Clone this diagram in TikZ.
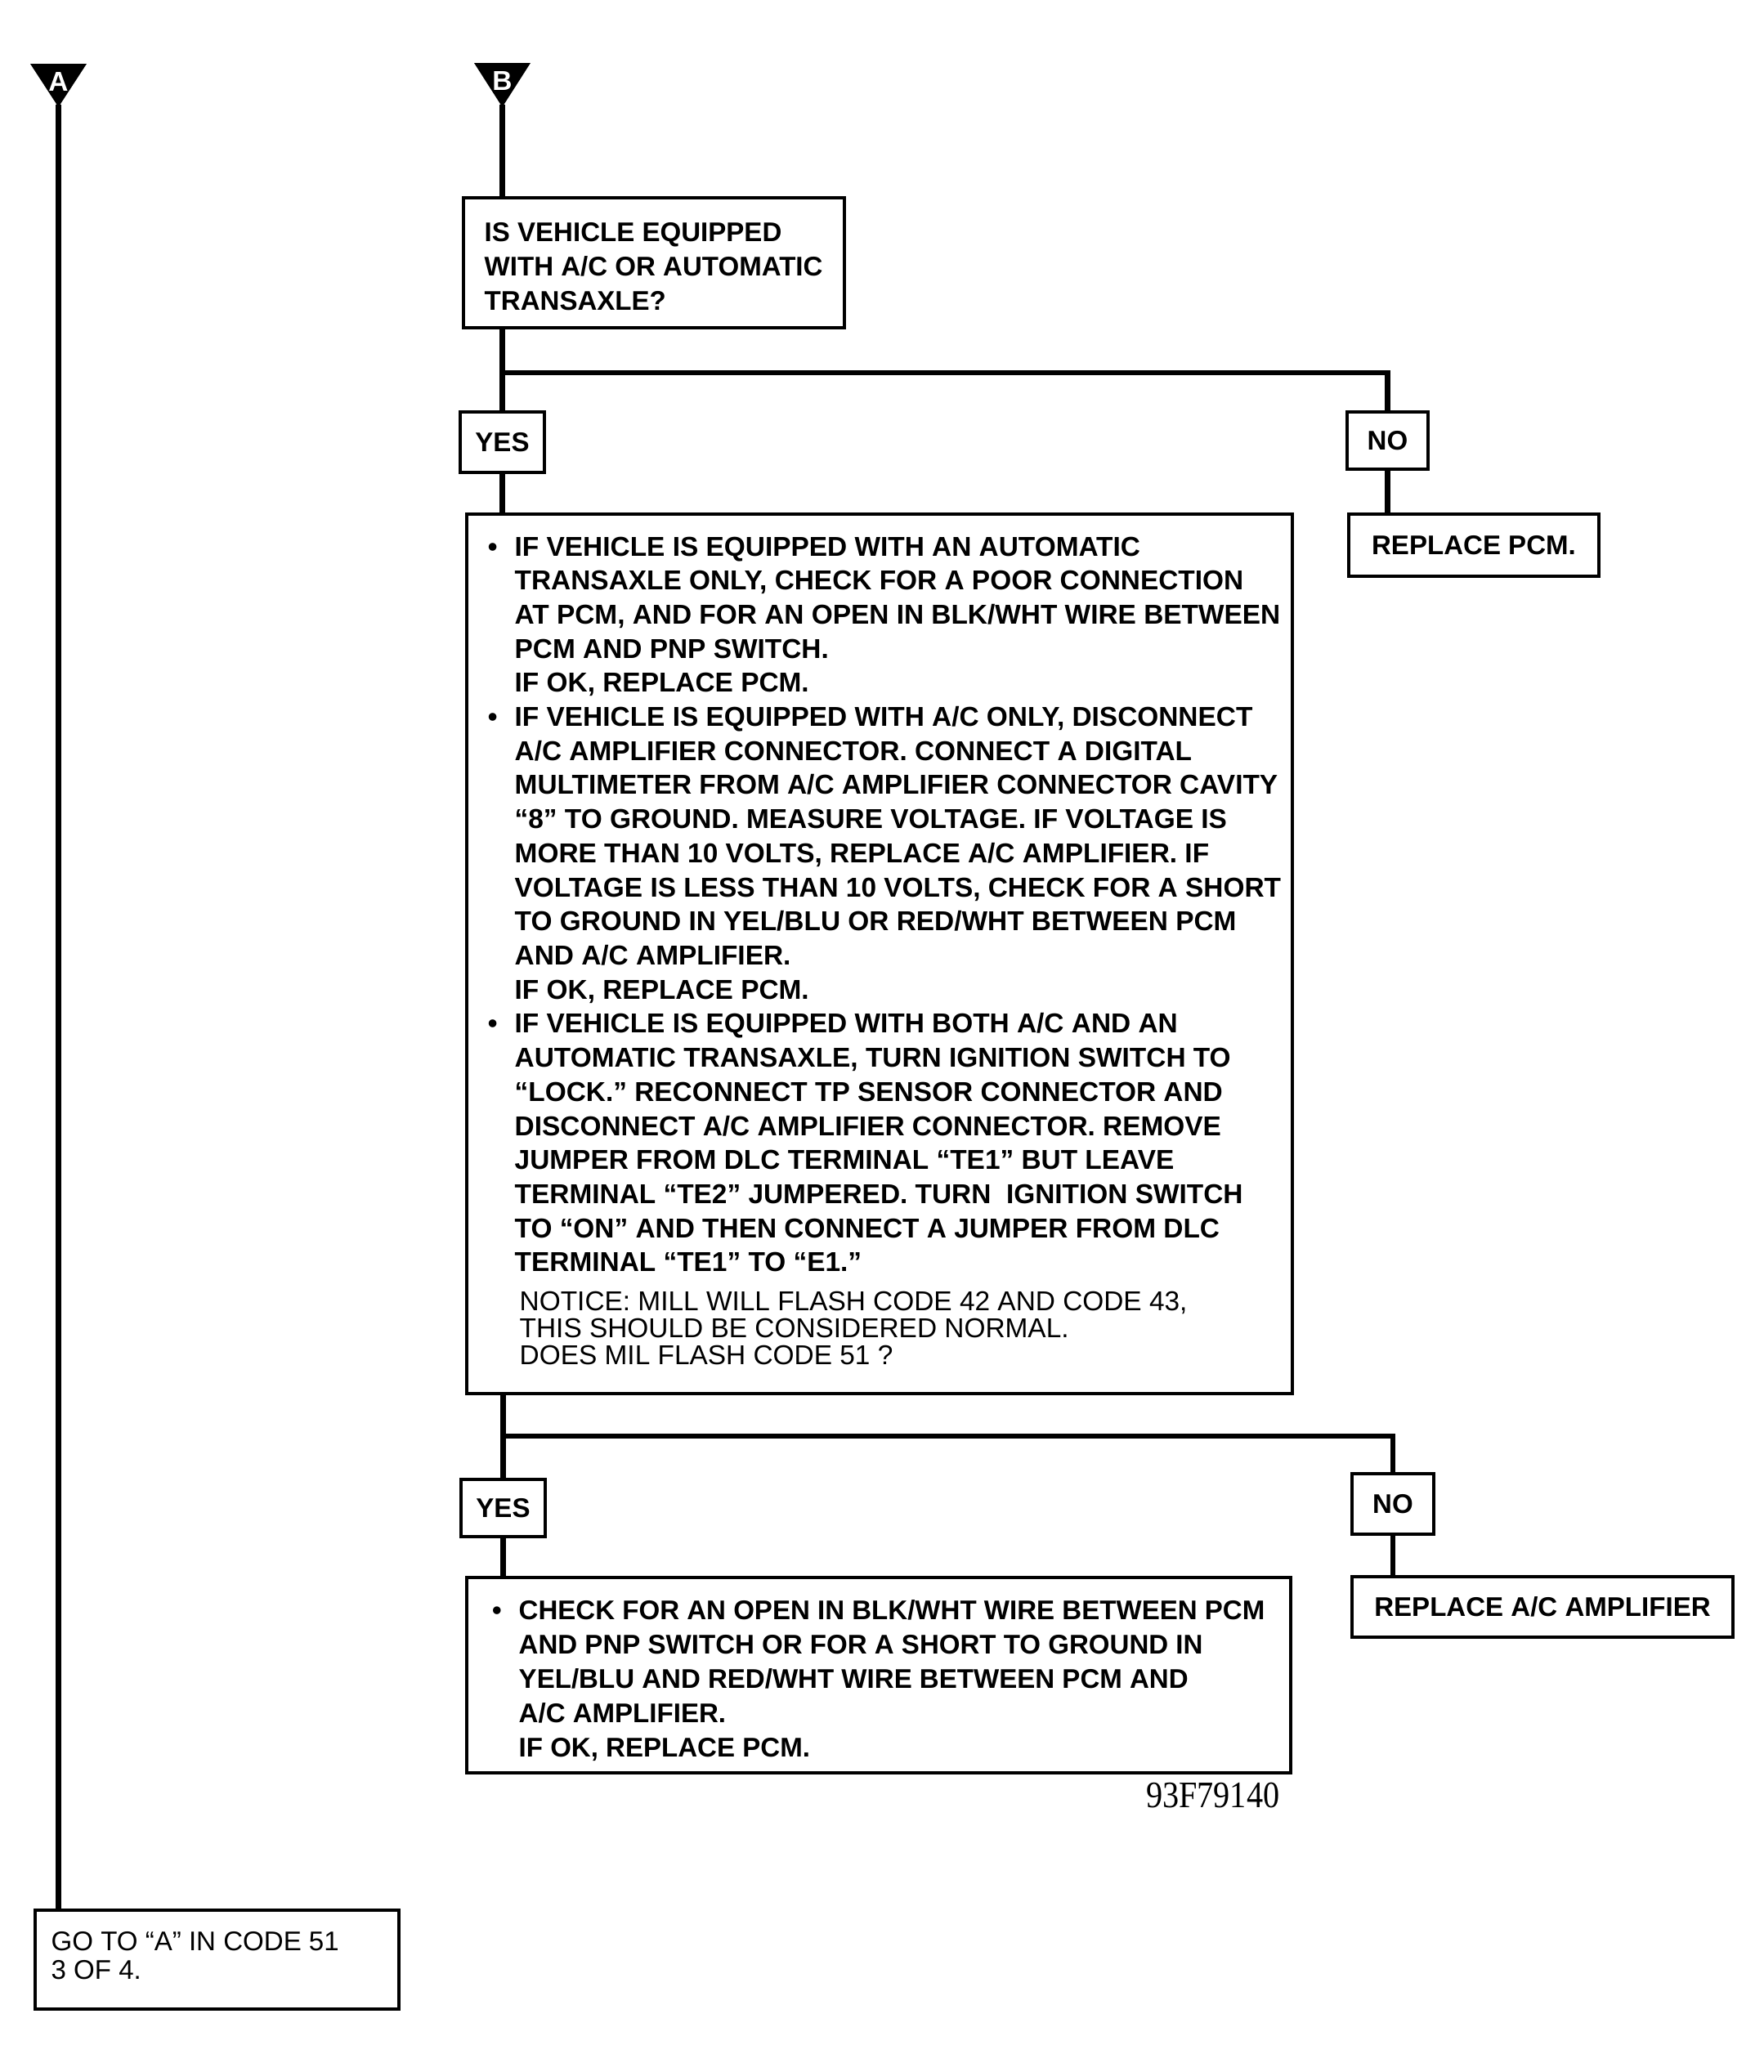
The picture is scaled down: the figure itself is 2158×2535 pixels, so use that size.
\documentclass[tikz,border=0pt]{standalone}
\usepackage{fontspec}
\setmainfont{Liberation Sans}
\newfontfamily\serifnum[FakeStretch=0.88]{Liberation Serif}
\usetikzlibrary{fit}
\newcommand\blk[2]{{#1\begin{tabular}[t]{@{}l@{}}#2\end{tabular}}}
\newcommand\bul{\llap{\textbullet\hspace{6pt}}}
\newcommand\boldA{\fontsize{9.4}{11.95}\selectfont\bfseries}
\newcommand\boldB{\fontsize{9.5}{11.86}\selectfont\bfseries}
\newcommand\noticef{\fontsize{9.5}{9.25}\selectfont}
\newcommand\gof{\fontsize{9.4}{10}\selectfont}
\begin{document}
\begin{tikzpicture}[x=0.01cm,y=-0.01cm,
  box/.style={draw, line width=1.1pt, inner sep=0pt, rectangle},
  conn/.style={line width=1.85pt},
  lbl/.style={box, font=\fontsize{9.4}{11}\selectfont\bfseries},
  tri/.style={fill=black},
  trilbl/.style={font=\fontsize{9.5}{10}\selectfont\bfseries, text=white, inner sep=0pt},
  txt/.style={inner sep=0pt, anchor=base west}]
\useasboundingbox (0,0) rectangle (2158,2535);

% entry triangles
\fill[tri] (37,78) -- (106,78) -- (71.5,131) -- cycle;
\node[trilbl] (tA) at (71.5,100) {A};
\coordinate (aA) at (71.5,128);
\fill[tri] (580,77) -- (649,77) -- (614.5,131) -- cycle;
\node[trilbl] (tB) at (614.5,99) {B};
\coordinate (aB) at (614.5,128);

% question box
\node[box, fit={(567,242) (1033,401)}] (q1) {};
\node[txt] (q1t) at (592,295) {\blk{\boldA}{IS VEHICLE EQUIPPED\\ WITH A/C OR AUTOMATIC\\ TRANSAXLE?}};

% first YES / NO
\node[lbl, minimum width=1.03cm, minimum height=0.74cm] (yes1) at (614.5,541) {YES};
\node[lbl, minimum width=0.99cm, minimum height=0.70cm] (no1) at (1697.5,539) {NO};
\node[lbl, minimum width=3.06cm, minimum height=0.76cm] (rp1) at (1803,667) {REPLACE PCM.};

% big box
\node[box, fit={(571,629) (1581,1705)}] (bx2) {};
\node[txt] (bx2t) at (629,680) {\blk{\boldB}{%
\bul IF VEHICLE IS EQUIPPED WITH AN AUTOMATIC\\
TRANSAXLE ONLY, CHECK FOR A POOR CONNECTION\\
AT PCM, AND FOR AN OPEN IN BLK/WHT WIRE BETWEEN\\
PCM AND PNP SWITCH.\\
IF OK, REPLACE PCM.\\
\bul IF VEHICLE IS EQUIPPED WITH A/C ONLY, DISCONNECT\\
A/C AMPLIFIER CONNECTOR. CONNECT A DIGITAL\\
MULTIMETER FROM A/C AMPLIFIER CONNECTOR CAVITY\\
“8” TO GROUND. MEASURE VOLTAGE. IF VOLTAGE IS\\
MORE THAN 10 VOLTS, REPLACE A/C AMPLIFIER. IF\\
VOLTAGE IS LESS THAN 10 VOLTS, CHECK FOR A SHORT\\
TO GROUND IN YEL/BLU OR RED/WHT BETWEEN PCM\\
AND A/C AMPLIFIER.\\
IF OK, REPLACE PCM.\\
\bul IF VEHICLE IS EQUIPPED WITH BOTH A/C AND AN\\
AUTOMATIC TRANSAXLE, TURN IGNITION SWITCH TO\\
“LOCK.” RECONNECT TP SENSOR CONNECTOR AND\\
DISCONNECT A/C AMPLIFIER CONNECTOR. REMOVE\\
JUMPER FROM DLC TERMINAL “TE1” BUT LEAVE\\
TERMINAL “TE2” JUMPERED. TURN\ \ IGNITION SWITCH\\
TO “ON” AND THEN CONNECT A JUMPER FROM DLC\\
TERMINAL “TE1” TO “E1.”}};
\node[txt] (bx2n) at (635,1603) {\blk{\noticef}{%
NOTICE: MILL WILL FLASH CODE 42 AND CODE 43,\\
THIS SHOULD BE CONSIDERED NORMAL.\\
DOES MIL FLASH CODE 51 ?}};

% second YES / NO
\node[lbl, minimum width=1.03cm, minimum height=0.70cm] (yes2) at (615.5,1845) {YES};
\node[lbl, minimum width=1.00cm, minimum height=0.74cm] (no2) at (1704,1840) {NO};
\node[lbl, minimum width=4.66cm, minimum height=0.74cm] (rp2) at (1887,1966) {REPLACE A/C AMPLIFIER};

% bottom box
\node[box, fit={(571,1930) (1579,2169)}] (bx3) {};
\node[txt] (bx3t) at (634,1981) {\blk{\boldA}{%
\bul CHECK FOR AN OPEN IN BLK/WHT WIRE BETWEEN PCM\\
AND PNP SWITCH OR FOR A SHORT TO GROUND IN\\
YEL/BLU AND RED/WHT WIRE BETWEEN PCM AND\\
A/C AMPLIFIER.\\
IF OK, REPLACE PCM.}};

\node[inner sep=0pt, anchor=base east, font=\serifnum\fontsize{13}{14}\selectfont] (code) at (1566,2211) {93F79140};

% go-to box
\node[box, fit={(43,2337) (488,2458)}] (go) {};
\node[txt] (got) at (62,2386) {\blk{\gof}{GO TO “A” IN CODE 51\\ 3 OF 4.}};

% connectors
\coordinate (br1) at (614,456);
\coordinate (br2) at (614,1757);
\draw[conn] (aA) -- (aA |- go.north);
\draw[conn] (aB) -- (aB |- q1.north);
\draw[conn] (yes1.north |- q1.south) -- (yes1.north);
\draw[conn] (yes1.north |- br1) -| (no1.north);
\draw[conn] (yes1.south) -- (yes1.south |- bx2.north);
\draw[conn] (no1.south) -- (no1.south |- rp1.north);
\draw[conn] (yes2.north |- bx2.south) -- (yes2.north);
\draw[conn] (yes2.north |- br2) -| (no2.north);
\draw[conn] (yes2.south) -- (yes2.south |- bx3.north);
\draw[conn] (no2.south) -- (no2.south |- rp2.north);
\end{tikzpicture}
\end{document}
